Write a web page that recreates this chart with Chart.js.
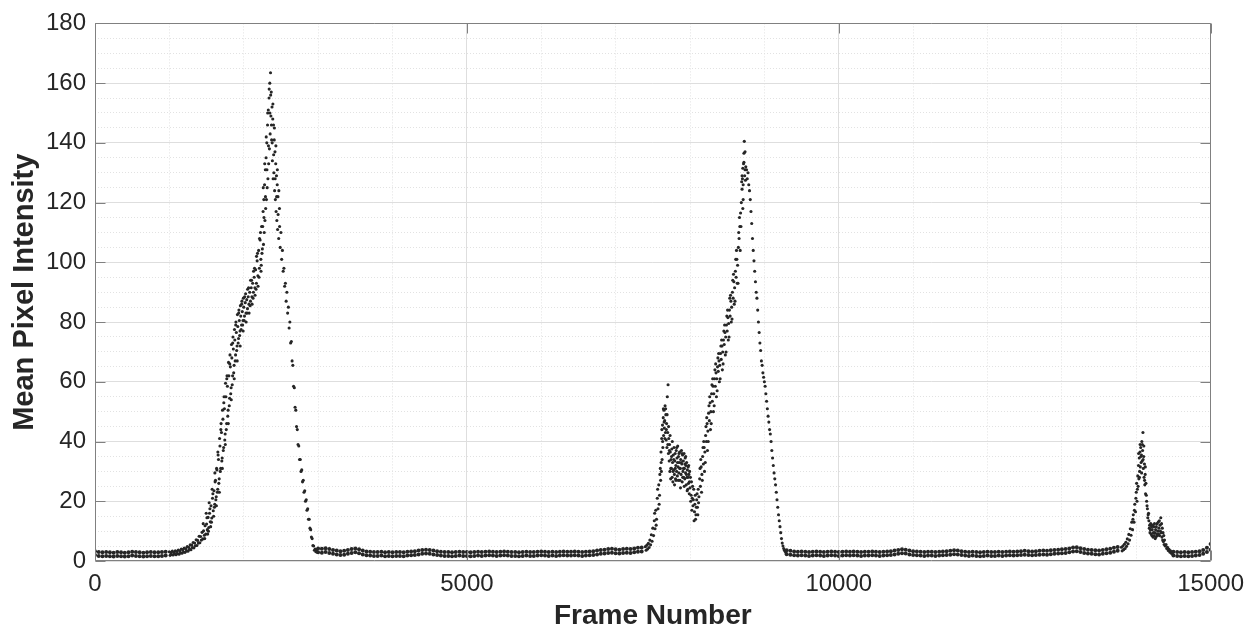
<!DOCTYPE html>
<html>
<head>
<meta charset="utf-8">
<script src="https://cdn.jsdelivr.net/npm/chart.js@4/dist/chart.umd.min.js"></script>
<style>
  html, body { margin: 0; padding: 0; background: #ffffff; }
  #wrap { width: 1253px; height: 630px; position: relative; }
</style>
</head>
<body>
<div id="wrap"><canvas id="chart" width="1253" height="630"></canvas></div>
<script>
// ---- tick labels ----
const xTickLabels = [0, 5000, 10000, 15000];
const yTickLabels = [0, 20, 40, 60, 80, 100, 120, 140, 160, 180];

// ---- baseline stretches: [frame, upper sample, lower sample] ----
const baselineStart = [
  [0,3.3,2.0],[50,3.0,1.7],[100,2.9,1.6],[150,3.0,1.7],[200,2.9,1.6],[250,2.8,1.5],[300,3.0,1.7],[350,2.9,1.6],
  [400,2.8,1.5],[450,2.9,1.6],[500,3.1,1.8],[550,3.0,1.7],[600,2.9,1.6],[650,2.8,1.5],[700,2.9,1.6],[750,3.0,1.7],
  [800,2.9,1.6],[850,2.9,1.6],[900,3.0,1.7],[950,3.1,1.8]
];
const baselineMid = [
  [3000,4.2,2.9],[3050,4.1,2.8],[3100,4.3,3.0],[3150,4.0,2.7],[3200,3.7,2.4],[3250,3.5,2.2],[3300,3.3,2.0],[3350,3.4,2.1],
  [3400,3.7,2.4],[3450,4.0,2.7],[3500,4.2,2.9],[3550,3.9,2.6],[3600,3.5,2.2],[3650,3.2,1.9],[3700,3.1,1.8],[3750,3.0,1.7],
  [3800,3.0,1.7],[3850,3.1,1.8],[3900,2.9,1.6],[3950,3.0,1.7],[4000,2.9,1.6],[4050,3.0,1.7],[4100,3.0,1.7],[4150,2.9,1.6],
  [4200,3.1,1.8],[4250,3.2,1.9],[4300,3.3,2.0],[4350,3.5,2.2],[4400,3.7,2.4],[4450,3.8,2.5],[4500,3.7,2.4],[4550,3.5,2.2],
  [4600,3.3,2.0],[4650,3.1,1.8],[4700,3.0,1.7],[4750,3.0,1.7],[4800,2.9,1.6],[4850,3.0,1.7],[4900,3.1,1.8],[4950,3.0,1.7],
  [5000,3.0,1.7],[5050,2.9,1.6],[5100,3.0,1.7],[5150,3.1,1.8],[5200,3.0,1.7],[5250,3.1,1.8],[5300,3.2,1.9],[5350,3.1,1.8],
  [5400,3.0,1.7],[5450,3.1,1.8],[5500,3.2,1.9],[5550,3.1,1.8],[5600,3.0,1.7],[5650,3.0,1.7],[5700,2.9,1.6],[5750,3.0,1.7],
  [5800,3.1,1.8],[5850,3.0,1.7],[5900,3.0,1.7],[5950,3.1,1.8],[6000,3.2,1.9],[6050,3.1,1.8],[6100,3.0,1.7],[6150,3.1,1.8],
  [6200,3.0,1.7],[6250,3.1,1.8],[6300,3.2,1.9],[6350,3.1,1.8],[6400,3.1,1.8],[6450,3.2,1.9],[6500,3.1,1.8],[6550,3.0,1.7],
  [6600,3.1,1.8],[6650,3.2,1.9],[6700,3.3,2.0],[6750,3.5,2.2],[6800,3.7,2.4],[6850,3.8,2.5],[6900,4.0,2.7],[6950,4.1,2.8],
  [7000,3.9,2.6],[7050,3.8,2.5],[7100,4.0,2.7],[7150,4.1,2.8],[7200,4.0,2.7],[7250,4.2,2.9],[7300,4.4,3.1],[7350,4.5,3.2]
];
const baselineLate = [
  [9300,3.6,2.3],[9350,3.4,2.1],[9400,3.2,1.9],[9450,3.1,1.8],[9500,3.2,1.9],[9550,3.1,1.8],[9600,3.0,1.7],[9650,3.1,1.8],
  [9700,3.2,1.9],[9750,3.1,1.8],[9800,3.0,1.7],[9850,3.1,1.8],[9900,3.2,1.9],[9950,3.1,1.8],[10000,3.0,1.7],[10050,3.1,1.8],
  [10100,3.2,1.9],[10150,3.1,1.8],[10200,3.2,1.9],[10250,3.1,1.8],[10300,3.0,1.7],[10350,3.1,1.8],[10400,3.1,1.8],[10450,3.2,1.9],
  [10500,3.1,1.8],[10550,3.0,1.7],[10600,3.1,1.8],[10650,3.2,1.9],[10700,3.3,2.0],[10750,3.5,2.2],[10800,3.7,2.4],[10850,3.9,2.6],
  [10900,3.8,2.5],[10950,3.5,2.2],[11000,3.3,2.0],[11050,3.2,1.9],[11100,3.1,1.8],[11150,3.0,1.7],[11200,3.1,1.8],[11250,3.1,1.8],
  [11300,3.0,1.7],[11350,3.1,1.8],[11400,3.2,1.9],[11450,3.3,2.0],[11500,3.4,2.1],[11550,3.6,2.3],[11600,3.5,2.2],[11650,3.3,2.0],
  [11700,3.1,1.8],[11750,3.0,1.7],[11800,3.1,1.8],[11850,3.0,1.7],[11900,2.9,1.6],[11950,3.0,1.7],[12000,3.1,1.8],[12050,3.0,1.7],
  [12100,3.0,1.7],[12150,3.1,1.8],[12200,3.0,1.7],[12250,3.1,1.8],[12300,3.2,1.9],[12350,3.1,1.8],[12400,3.2,1.9],[12450,3.3,2.0],
  [12500,3.4,2.1],[12550,3.3,2.0],[12600,3.2,1.9],[12650,3.3,2.0],[12700,3.4,2.1],[12750,3.5,2.2],[12800,3.4,2.1],[12850,3.6,2.3],
  [12900,3.7,2.4],[12950,3.8,2.5],[13000,3.9,2.6],[13050,4.0,2.7],[13100,4.2,2.9],[13150,4.5,3.2],[13200,4.6,3.3],[13250,4.3,3.0],
  [13300,4.0,2.7],[13350,3.8,2.5],[13400,3.7,2.4],[13450,3.6,2.3],[13500,3.5,2.2],[13550,3.7,2.4],[13600,3.9,2.6],[13650,4.1,2.8],
  [13700,4.4,3.1],[13750,4.7,3.4]
];
const baselineEnd = [
  [14500,3.1,1.8],[14550,3.0,1.7],[14600,2.9,1.6],[14650,3.0,1.7],[14700,2.9,1.6],[14750,3.0,1.7],[14800,3.1,1.8],
  [14850,3.3,2.0],[14900,3.7,2.4],[14950,4.4,3.0],[15000,5.7,3.8]
];

// ---- peaks: [frame, mean pixel intensity] ----
const peakOne = [
  [1000,3.1],[1010,1.9],[1020,2.8],[1030,2.2],[1040,3.3],[1050,2.0],[1060,2.9],[1070,2.4],[1080,3.4],[1090,2.1],
  [1100,3.2],[1110,2.5],[1120,3.7],[1130,2.3],[1140,3.4],[1150,2.8],[1160,4.0],[1170,2.6],[1180,3.8],[1190,3.0],
  [1200,4.3],[1210,2.9],[1220,4.1],[1230,3.4],[1240,4.8],[1250,3.3],[1260,4.6],[1270,3.9],[1280,5.4],[1290,3.8],
  [1300,5.3],[1310,4.5],[1320,6.2],[1330,4.4],[1340,6.0],[1350,5.1],[1360,7.1],[1370,5.2],[1380,6.9],[1390,6.0],
  [1400,8.3],[1410,6.1],[1420,8.2],[1430,7.0],[1440,9.6],[1450,7.4],[1460,10.1],[1470,8.6],[1480,11.8],[1490,9.0],
  [1500,12.4],[1510,10.5],[1520,14.6],[1530,11.2],[1540,16.0],[1550,13.1],[1560,18.5],[1570,14.4],[1580,21.0],[1590,16.8],
  [1600,23.5],[1610,19.0],[1620,27.0],[1630,21.5],[1640,30.5],[1650,24.0],[1660,34.0],[1670,27.5],[1680,38.5],[1690,31.0],
  [1700,43.0],[1710,34.5],[1720,47.5],[1730,38.0],[1740,51.0],[1750,42.5],[1760,55.0],[1770,46.0],[1780,58.5],[1790,50.5],
  [1800,62.0],[1810,54.5],[1820,65.0],[1830,58.0],[1840,68.0],[1850,62.0],[1860,71.0],[1870,65.5],[1880,74.0],[1890,69.0],
  [1900,76.5],[1910,72.0],[1920,78.5],[1930,74.5],[1940,80.5],[1950,77.0],[1960,82.0],[1970,79.0],[1980,83.5],[1990,80.5],
  [2000,85.0],[2010,82.0],[2020,86.5],[2030,83.0],[2040,87.5],[2050,84.5],[2060,88.5],[2070,86.0],[2080,90.0],[2090,87.0],
  [2100,91.5],[2110,88.5],[2120,93.0],[2130,90.0],[2140,95.0],[2150,91.5],[2160,97.5],[2170,93.0],[2180,100.5],[2190,95.5],
  [2200,104.0],[2210,98.0],[2220,107.5],[2230,101.0],[2240,112.0],[2245,103.0],[2250,104.5],[2255,112.0],[2260,117.0],[2265,106.0],
  [2270,121.0],[2275,110.0],[2280,126.0],[2285,114.0],[2290,131.0],[2295,118.0],[2300,135.0],[2305,121.0],[2310,140.0],[2315,125.0],
  [2320,146.0],[2325,128.0],[2330,151.0],[2335,133.0],[2340,155.0],[2345,138.0],[2350,160.0],[2355,143.0],[2360,163.5],[2365,149.0],
  [2370,157.0],[2375,141.0],[2380,152.0],[2385,134.0],[2390,148.0],[2395,128.0],[2400,146.0],[2405,130.0],[2410,141.0],[2415,124.0],
  [2420,137.0],[2425,121.0],[2430,133.0],[2435,117.0],[2440,129.0],[2445,114.0],[2450,126.0],[2455,111.0],[2460,122.0],[2470,108.0],
  [2480,118.0],[2490,105.0],[2500,110.0],[2510,101.0],[2520,104.0],[2530,97.0],[2540,98.0],[2550,92.0],[2560,93.0],[2570,87.0],
  [2580,90.0],[2590,83.0],[2600,85.0],[2610,78.0],[2620,80.0],[2630,73.0],[2640,73.5],[2650,67.0],[2660,65.5],[2670,58.5],
  [2680,58.0],[2690,51.5],[2700,50.5],[2710,45.0],[2720,44.0],[2730,39.0],[2740,38.5],[2750,34.0],[2760,34.0],[2770,30.0],
  [2780,30.5],[2790,26.5],[2800,27.0],[2810,23.0],[2820,23.5],[2830,20.0],[2840,20.5],[2850,17.0],[2860,17.5],[2870,14.0],
  [2880,14.0],[2890,11.0],[2900,10.5],[2910,8.0],[2920,7.5],[2930,5.2],[2940,5.0],[2950,3.6],[2960,4.0],[2970,3.1],
  [2980,3.8],[2990,2.9]
];
const peakOneSpread = [
  [1505,14.5],[1525,10.0],[1545,17.5],[1565,13.0],[1585,22.5],[1605,18.0],[1615,26.5],[1625,20.5],[1635,31.0],[1645,23.0],
  [1655,35.5],[1665,26.0],[1675,41.0],[1685,30.0],[1695,46.0],[1705,33.5],[1715,50.5],[1725,37.0],[1735,55.0],[1745,40.5],
  [1755,59.5],[1765,44.0],[1775,62.0],[1785,48.5],[1795,66.5],[1805,52.0],[1815,69.0],[1825,56.0],[1835,72.5],[1845,59.0],
  [1855,75.0],[1865,63.0],[1875,77.5],[1885,67.0],[1895,80.0],[1905,70.5],[1915,82.5],[1925,73.0],[1935,84.0],[1945,75.5],
  [1955,85.5],[1965,77.5],[1975,87.0],[1985,79.0],[1995,88.0],[2005,80.5],[2025,89.5],[2045,83.0],[2065,91.5],[2085,85.5],
  [2105,94.0],[2125,88.0],[2145,98.0],[2165,91.0],[2185,103.0],[2205,95.0],[2225,110.0],[2235,99.0],
  [2262,125.0],[2272,115.0],[2282,133.0],[2292,122.0],[2302,142.0],[2312,131.0],[2322,150.0],[2332,139.0],[2342,158.0],[2352,150.0],
  [2362,156.0],[2372,146.0],[2382,140.0],[2392,153.0],[2402,136.0],[2412,145.0],[2422,128.0],[2432,139.0],[2442,122.0],[2452,131.0],
  [2462,116.0],[2472,124.0],[2482,112.0]
];
const peakOneEdges = [
  [1455,12.5],[1475,7.5],[1495,16.0],[1515,9.0],[1535,19.5],[1555,11.5],[1575,24.0],[1595,15.0],[1612,29.5],[1632,18.5],
  [1652,36.5],[1672,23.0],[1692,44.0],[1712,31.0],[1732,53.0],[1752,39.0],[1772,61.0],[1792,46.0],[1812,66.0],[1832,54.0],
  [1852,73.0],[1872,61.0],[1892,79.0],[1912,67.0],[1932,83.0],[1952,72.0],[1972,86.0],[1992,77.0],[2012,88.5],[2032,80.0],
  [2052,91.0],[2072,83.0],[2092,94.0],[2112,86.0],[2132,97.0],[2152,89.0],[2172,102.0],[2192,92.0],[2212,108.0],[2232,97.0]
];
const peakTwo = [
  [7400,4.8],[7410,3.6],[7420,5.3],[7430,4.0],[7440,5.9],[7450,4.5],[7460,7.0],[7470,5.4],[7480,8.8],[7490,6.6],
  [7500,11.0],[7510,8.5],[7520,13.5],[7530,10.8],[7540,17.0],[7550,14.0],[7560,21.0],[7570,17.5],[7580,25.5],[7590,22.0],
  [7600,31.0],[7605,27.0],[7610,36.5],[7615,30.0],[7620,41.0],[7625,34.0],[7630,45.5],[7635,38.0],[7640,48.0],[7645,42.0],
  [7650,50.5],[7655,44.5],[7660,47.0],[7665,52.0],[7670,43.0],[7675,49.0],[7680,40.5],[7685,46.0],[7690,38.0],[7695,55.0],
  [7700,43.0],[7705,59.0],[7710,36.0],[7715,41.0],[7720,33.5],[7725,39.0],[7730,30.0],[7735,36.5],[7740,27.5],[7745,34.0],
  [7750,31.0],[7755,37.5],[7760,28.0],[7765,33.0],[7770,26.5],[7775,35.5],[7780,30.5],[7785,38.0],[7790,29.0],[7795,33.5],
  [7800,36.0],[7805,27.5],[7810,32.0],[7815,37.0],[7820,30.0],[7825,34.5],[7830,28.5],[7835,38.5],[7840,31.5],[7845,35.0],
  [7850,29.5],[7855,33.0],[7860,36.5],[7865,27.0],[7870,31.0],[7875,34.0],[7880,29.0],[7885,37.0],[7890,32.5],[7895,26.5],
  [7900,35.5],[7905,30.0],[7910,33.5],[7915,28.0],[7920,36.0],[7925,31.0],[7930,27.5],[7935,34.5],[7940,29.5],[7945,32.0],
  [7950,25.5],[7955,33.0],[7960,28.0],[7965,30.5],[7970,24.0],[7975,31.5],[7980,26.0],[7985,29.0],[7990,22.5],[7995,30.0],
  [8000,24.5],[8010,20.0],[8020,26.5],[8030,21.0],[8040,18.5],[8050,24.0],[8060,16.5],[8070,22.0],[8080,15.5],[8090,20.5],
  [8100,18.0],[8110,24.0],[8120,21.5],[8130,27.5],[8140,25.0],[8150,31.5],[8160,29.0],[8170,35.0],[8180,32.5],[8190,38.0],
  [8200,36.5],[8210,42.0],[8220,40.0],[8230,46.0],[8240,43.5],[8250,49.5],[8260,47.0],[8270,53.0],[8280,50.0],[8290,56.0],
  [8300,53.5],[8310,58.5],[8320,56.0],[8330,61.0],[8340,58.5],[8350,63.0],[8360,61.0],[8370,65.0],[8380,63.5],[8390,67.0],
  [8400,65.5],[8410,69.5],[8420,67.5],[8430,72.0],[8440,70.0],[8450,74.0],[8460,72.5],[8470,76.5],[8480,75.0],[8490,79.0],
  [8500,77.0],[8510,81.5],[8520,79.5],[8530,84.0],[8540,82.0],[8550,87.0],[8560,85.0],[8570,90.0],[8580,88.0],[8590,93.5],
  [8600,91.5],[8610,97.0],[8620,95.0],[8630,101.0],[8640,99.0],[8650,105.0],[8660,108.0],[8670,112.0],[8680,116.5],[8690,120.0],
  [8700,124.5],[8705,128.0],[8710,131.5],[8715,126.0],[8720,133.0],[8725,136.5],[8730,140.5],[8735,129.0],[8740,131.0],[8745,127.5],
  [8750,132.0],[8760,131.0],[8770,128.0],[8780,130.0],[8790,126.0],[8800,124.0],[8810,121.0],[8820,117.0],[8830,113.0],[8840,108.0],
  [8850,104.0],[8860,100.5],[8870,97.0],[8880,93.5],[8890,90.0],[8900,88.0],[8910,84.0],[8920,80.0],[8930,76.5],[8940,73.0],
  [8950,70.5],[8960,67.0],[8970,65.5],[8980,63.0],[8990,61.5],[9000,60.0],[9010,58.5],[9020,56.0],[9030,53.5],[9040,51.0],
  [9050,48.5],[9060,46.5],[9070,44.0],[9080,42.5],[9090,40.0],[9100,37.0],[9110,34.5],[9120,32.0],[9130,29.5],[9140,27.5],
  [9150,25.5],[9160,23.0],[9170,20.5],[9180,18.0],[9190,15.5],[9200,13.5],[9210,11.5],[9220,9.5],[9230,7.5],[9240,6.0],
  [9250,5.0],[9260,4.2],[9270,3.6],[9280,3.2],[9290,2.8]
];
const peakTwoSpread = [
  [7525,16.0],[7545,12.0],[7565,24.0],[7585,19.0],[7595,29.0],
  [7612,33.0],[7622,44.0],[7632,40.0],[7642,51.0],[7652,46.5],[7662,41.0],[7672,51.0],[7682,44.0],[7692,49.0],[7702,39.0],
  [7712,45.0],[7722,37.0],[7732,42.0],[7742,31.0],[7752,35.0],[7762,40.0],[7772,30.0],[7782,34.0],[7792,25.5],[7802,31.0],
  [7812,27.0],[7822,38.0],[7832,33.0],[7842,27.0],[7852,36.0],[7862,31.0],[7872,24.5],[7882,33.0],[7892,36.0],[7902,28.0],
  [7912,31.0],[7922,25.0],[7932,32.5],[7942,35.0],[7952,29.0],[7962,23.5],[7972,28.0],[7982,32.0],[7992,26.5],[8005,28.0],
  [8015,22.0],[8025,17.0],[8035,25.0],[8045,20.5],[8055,13.5],[8065,19.0],[8075,14.0],[8085,18.0],[8095,22.5],[8105,15.5],
  [8115,19.5],
  [8145,34.0],[8165,27.0],[8185,40.0],[8205,33.0],[8225,48.0],[8245,40.0],[8265,55.0],[8285,46.0],[8305,61.0],[8325,52.0],
  [8345,66.0],[8365,57.0],[8385,69.5],[8405,61.0],[8425,74.0],[8445,66.0],[8465,79.0],[8485,70.0],[8505,84.0],[8525,75.0],
  [8545,89.0],[8565,81.0],[8585,96.0],[8605,87.0],[8625,104.0],[8645,93.0],[8665,115.0],[8675,104.0],[8695,127.0],[8710,118.0],
  [8725,133.5],[8740,137.0]
];
const peakTwoEdges = [
  [8135,31.0],[8155,23.0],[8175,38.0],[8195,30.0],[8215,45.0],[8235,37.0],[8255,52.0],[8275,44.0],[8295,59.0],[8315,50.0],
  [8335,64.0],[8355,55.0],[8375,68.0],[8395,60.0],[8415,72.0],[8435,64.0],[8455,77.0],[8475,69.0],[8495,82.0],[8515,74.0],
  [8535,88.0],[8555,80.0],[8575,94.0],[8595,86.0],[8615,101.0],[8635,93.0],[8655,110.0],[8685,112.0],[8700,129.0],[8715,121.0]
];
const peakThree = [
  [13800,4.6],[13810,3.4],[13820,5.0],[13830,3.8],[13840,5.6],[13850,4.2],[13860,6.3],[13870,4.9],[13880,7.4],[13890,5.8],
  [13900,8.9],[13910,7.0],[13920,10.8],[13930,8.6],[13940,13.0],[13950,10.5],[13960,15.5],[13970,13.0],[13980,19.0],[13990,16.5],
  [14000,23.0],[14010,20.0],[14020,28.5],[14025,25.0],[14030,32.0],[14035,27.5],[14040,34.5],[14045,30.0],[14050,36.5],[14055,31.5],
  [14060,38.0],[14065,33.0],[14070,35.5],[14075,40.0],[14080,33.5],[14085,37.0],[14090,43.0],[14095,31.0],[14100,35.0],[14105,28.0],
  [14110,32.5],[14115,25.5],[14120,29.0],[14125,22.5],[14130,26.0],[14140,20.0],[14150,17.5],[14160,15.5],[14170,13.5],[14175,11.0],
  [14180,12.0],[14185,9.5],[14190,10.5],[14195,12.5],[14200,9.0],[14205,11.5],[14210,8.5],[14215,10.5],[14220,12.0],[14225,8.0],
  [14230,9.5],[14235,11.5],[14240,8.5],[14245,12.5],[14250,9.5],[14255,7.5],[14260,10.5],[14265,8.0],[14270,11.5],[14275,9.0],
  [14280,12.5],[14285,8.5],[14290,10.0],[14295,13.0],[14300,9.0],[14305,11.0],[14310,13.5],[14315,8.5],[14320,12.0],[14325,10.0],
  [14330,14.5],[14335,9.5],[14340,12.5],[14345,8.0],[14350,11.0],[14355,7.0],[14360,9.5],[14365,6.5],[14370,8.5],[14375,5.5],
  [14380,7.0],[14390,5.0],[14400,5.5],[14410,4.2],[14420,4.6],[14430,3.5],[14440,3.9],[14450,3.0],[14460,3.4],[14470,2.6],
  [14480,3.0],[14490,2.3]
];
const peakThreeSpread = [
  [13955,14.0],[13975,17.0],[13995,21.0],[14005,26.0],[14015,24.0],[14032,36.0],[14042,28.0],[14052,39.0],[14062,35.0],[14072,29.5],
  [14082,39.0],[14092,34.0],[14102,38.5],[14112,27.0],[14122,31.5],[14135,22.0],[14145,18.5],[14155,14.5],[14165,16.0]
];

// ---- build point lists for the library ----
const baselinePoints = [];
[baselineStart, baselineMid, baselineLate, baselineEnd].forEach(seg => {
  seg.forEach(([f, hi, lo]) => {
    baselinePoints.push({x: f, y: hi});
    baselinePoints.push({x: f, y: lo});
  });
});
const peakPoints = [];
[peakOne, peakOneSpread, peakOneEdges, peakTwo, peakTwoSpread, peakTwoEdges, peakThree, peakThreeSpread].forEach(seg => {
  seg.forEach(([f, v]) => peakPoints.push({x: f, y: v}));
});

const TEXT = '#262626';
const DOT = '#262626';
const FONT = "'Liberation Sans', Arial, Helvetica, sans-serif";
const MAJOR_GRID = '#dedede';
const MINOR_GRID = '#e2e2e2';
const AXIS = '#808080';

const isMajorX = c => c.tick && xTickLabels.includes(c.tick.value);
const isMajorY = c => c.tick && yTickLabels.includes(c.tick.value);

const boxTicks = {
  id: 'boxTicks',
  afterDatasetsDraw(chart) {
    const {ctx, chartArea, scales} = chart;
    const l = Math.round(chartArea.left) + 0.5, r = Math.round(chartArea.right) - 0.5;
    const t = Math.round(chartArea.top) + 0.5, b = Math.round(chartArea.bottom) - 0.5;
    const len = 10;
    ctx.save();
    ctx.strokeStyle = AXIS;
    ctx.lineWidth = 1;
    ctx.beginPath();
    ctx.rect(l, t, r - l, b - t);
    yTickLabels.forEach(v => {
      const p = Math.round(scales.y.getPixelForValue(v)) + 0.5;
      ctx.moveTo(l, p); ctx.lineTo(l + len, p);
      ctx.moveTo(r, p); ctx.lineTo(r - len, p);
    });
    xTickLabels.forEach(v => {
      const p = Math.round(scales.x.getPixelForValue(v)) + 0.5;
      ctx.moveTo(p, b); ctx.lineTo(p, b - len);
      ctx.moveTo(p, t); ctx.lineTo(p, t + len);
    });
    ctx.stroke();
    ctx.restore();
  }
};

new Chart(document.getElementById('chart'), {
  type: 'scatter',
  data: {
    datasets: [
      { label: 'baseline', data: baselinePoints, pointRadius: 2.0, pointBorderWidth: 0,
        backgroundColor: DOT, borderColor: DOT, pointHoverRadius: 0 },
      { label: 'intensity', data: peakPoints, pointRadius: 1.55, pointBorderWidth: 0,
        backgroundColor: DOT, borderColor: DOT, pointHoverRadius: 0 }
    ]
  },
  options: {
    responsive: false,
    animation: false,
    events: [],
    layout: { padding: { left: 0, right: 40, top: 23, bottom: 0 } },
    plugins: { legend: { display: false }, tooltip: { enabled: false } },
    scales: {
      x: {
        type: 'linear', min: 0, max: 15000,
        afterFit: s => { s.height = 69; },
        ticks: {
          stepSize: 1000, autoSkip: false, maxRotation: 0, padding: 9,
          color: TEXT, font: { family: FONT, size: 24 },
          callback: v => xTickLabels.includes(v) ? String(v) : ''
        },
        grid: {
          drawTicks: false, lineWidth: 1,
          color: c => isMajorX(c) ? MAJOR_GRID : MINOR_GRID
        },
        border: { display: false, dash: c => (c.tick && !isMajorX(c)) ? [1, 2] : [] },
        title: {
          display: true, text: 'Frame Number', color: TEXT,
          font: { family: FONT, size: 28, weight: 'bold', lineHeight: 1 },
          padding: { top: 0, bottom: 0 }
        }
      },
      y: {
        type: 'linear', min: 0, max: 180,
        afterFit: s => { s.width = 95; },
        ticks: {
          stepSize: 5, autoSkip: false, padding: 9,
          color: TEXT, font: { family: FONT, size: 24 },
          callback: v => yTickLabels.includes(v) ? String(v) : ''
        },
        grid: {
          drawTicks: false, lineWidth: 1,
          color: c => isMajorY(c) ? MAJOR_GRID : MINOR_GRID
        },
        border: { display: false, dash: c => (c.tick && !isMajorY(c)) ? [1, 2] : [] },
        title: {
          display: true, text: 'Mean Pixel Intensity', color: TEXT,
          font: { family: FONT, size: 29, weight: 'bold', lineHeight: 1 },
          padding: { top: 10, bottom: 0 }
        }
      }
    }
  },
  plugins: [boxTicks]
});
</script>
</body>
</html>
